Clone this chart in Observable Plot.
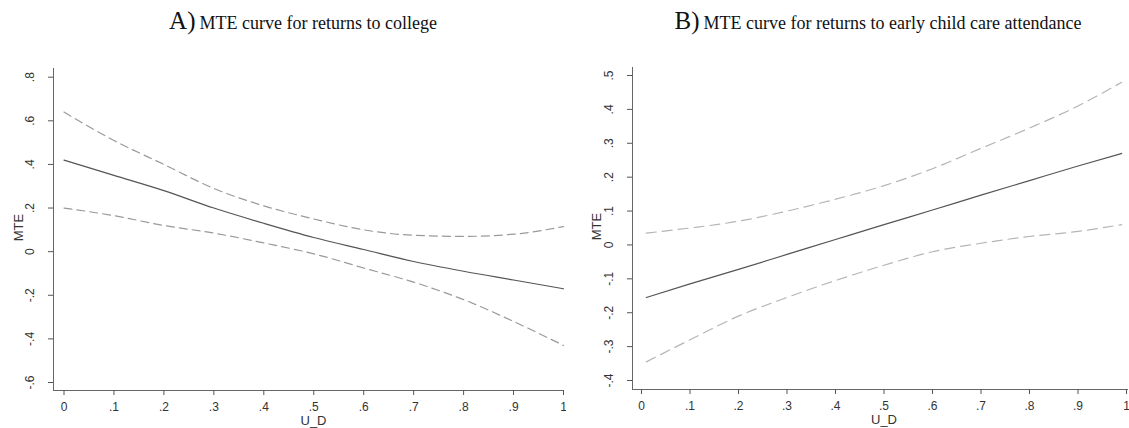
<!DOCTYPE html>
<html>
<head>
<meta charset="utf-8">
<script src="https://cdn.jsdelivr.net/npm/d3@7"></script>
<script src="https://cdn.jsdelivr.net/npm/@observablehq/plot@0.6"></script>
<style>
  html, body { margin: 0; padding: 0; background: #fff; }
  #wrap { position: relative; width: 1129px; height: 428px; overflow: hidden; background: #fff; }
  .title { position: absolute; top: 6px; width: 600px; text-align: center; white-space: nowrap;
           font-family: "Liberation Serif", "Times New Roman", serif; color: #111; line-height: 30px; }
  .title .big { font-size: 25px; }
  .title .small { font-size: 18px; }
  .panel { position: absolute; top: 50px; }
</style>
</head>
<body>
<div id="wrap">
  <div class="title" style="left:3px"><span class="big">A)</span> <span class="small">MTE curve for returns to college</span></div>
  <div class="title" style="left:578px"><span class="big">B)</span> <span class="small">MTE curve for returns to early child care attendance</span></div>
  <div class="panel" id="pA" style="left:0px"></div>
  <div class="panel" id="pB" style="left:566px"></div>
</div>
<script>
// ---- Panel A data: MTE curve for returns to college ----
const uA     = [0, 0.1, 0.2, 0.3, 0.4, 0.5, 0.6, 0.7, 0.8, 0.9, 1.0];
const mteA   = [0.42, 0.35, 0.28, 0.20, 0.13, 0.065, 0.01, -0.045, -0.09, -0.13, -0.17];
const upperA = [0.64, 0.51, 0.40, 0.29, 0.21, 0.15, 0.10, 0.075, 0.07, 0.08, 0.115];
const lowerA = [0.20, 0.165, 0.12, 0.085, 0.04, -0.01, -0.075, -0.14, -0.22, -0.32, -0.43];
const yTicksA = [-0.6, -0.4, -0.2, 0, 0.2, 0.4, 0.6, 0.8];

// ---- Panel B data: MTE curve for returns to early child care attendance ----
const uB     = [0.01, 0.1, 0.2, 0.3, 0.4, 0.5, 0.6, 0.7, 0.8, 0.9, 0.99];
const mteB   = [-0.155, -0.115, -0.072, -0.028, 0.016, 0.06, 0.103, 0.147, 0.19, 0.233, 0.27];
const upperB = [0.035, 0.05, 0.07, 0.10, 0.135, 0.175, 0.225, 0.285, 0.345, 0.41, 0.48];
const lowerB = [-0.345, -0.28, -0.21, -0.155, -0.105, -0.06, -0.02, 0.005, 0.025, 0.04, 0.06];
const yTicksB = [-0.4, -0.3, -0.2, -0.1, 0, 0.1, 0.2, 0.3, 0.4, 0.5];

const xTicks = [0, 0.1, 0.2, 0.3, 0.4, 0.5, 0.6, 0.7, 0.8, 0.9, 1];

const fmt = d => d === 0 ? "0" : (d < 0 ? "-" : "") + String(Math.abs(d)).replace(/^0/, "");

function toRows(u, m, up, lo) {
  return u.map((x, i) => ({u: x, mte: m[i], upper: up[i], lower: lo[i]}));
}

function panel(cfg) {
  const rows = toRows(cfg.u, cfg.mte, cfg.upper, cfg.lower);
  return Plot.plot({
    width: cfg.width, height: 378,
    marginLeft: cfg.ml, marginRight: cfg.mr, marginTop: cfg.mt, marginBottom: cfg.mb,
    style: {fontFamily: "Liberation Sans, Arial, sans-serif", fontSize: "12px", color: "#333", background: "#fff"},
    x: {domain: [0, 1], range: cfg.xr, axis: null},
    y: {domain: cfg.yd, range: cfg.yr, axis: null},
    marks: [
      Plot.frame({anchor: "left", stroke: "#666"}),
      Plot.frame({anchor: "bottom", stroke: "#666"}),
      Plot.axisX({ticks: xTicks, tickSize: 5, tickPadding: 7, tickFormat: fmt, stroke: "#555", fill: "#333", label: null}),
      Plot.axisY({ticks: cfg.yTicks, tickSize: 5, tickFormat: () => "", stroke: "#555", label: null}),
      Plot.text(cfg.yTicks, {y: d => d, text: fmt, frameAnchor: "left", dx: -23, rotate: -90,
        textAnchor: "middle", lineAnchor: "middle", fill: "#333"}),
      Plot.text(["MTE"], {frameAnchor: "left", dx: cfg.mteDx, dy: -2, rotate: -90, textAnchor: "middle",
        lineAnchor: "middle", fontSize: 13, fill: "#333"}),
      Plot.text(["U_D"], {frameAnchor: "bottom", dx: cfg.udDx, dy: 30, lineAnchor: "middle", fontSize: 13, fill: "#333"}),
      Plot.line(rows, {x: "u", y: "upper", stroke: cfg.dash, strokeWidth: 1.2, strokeDasharray: cfg.da, curve: "monotone-x"}),
      Plot.line(rows, {x: "u", y: "lower", stroke: cfg.dash, strokeWidth: 1.2, strokeDasharray: cfg.da, curve: "monotone-x"}),
      Plot.line(rows, {x: "u", y: "mte", stroke: cfg.solid, strokeWidth: 1.2, curve: "monotone-x"})
    ]
  });
}

document.getElementById("pA").appendChild(panel({
  u: uA, mte: mteA, upper: upperA, lower: lowerA, yTicks: yTicksA,
  width: 566, ml: 53, mr: 3, mt: 18, mb: 38,
  xr: [63.5, 563], yd: [-0.6, 0.8], yr: [332, 26.7],
  mteDx: -35, udDx: 5, dash: "#9a9a9a", solid: "#555", da: "8,5"
}));
document.getElementById("pB").appendChild(panel({
  u: uB, mte: mteB, upper: upperB, lower: lowerB, yTicks: yTicksB,
  width: 563, ml: 66, mr: 2, mt: 17, mb: 39,
  xr: [75, 560], yd: [-0.4, 0.5], yr: [330, 25],
  mteDx: -36, udDx: 4, dash: "#b5b5b5", solid: "#555", da: "10,6"
}));
</script>
</body>
</html>
